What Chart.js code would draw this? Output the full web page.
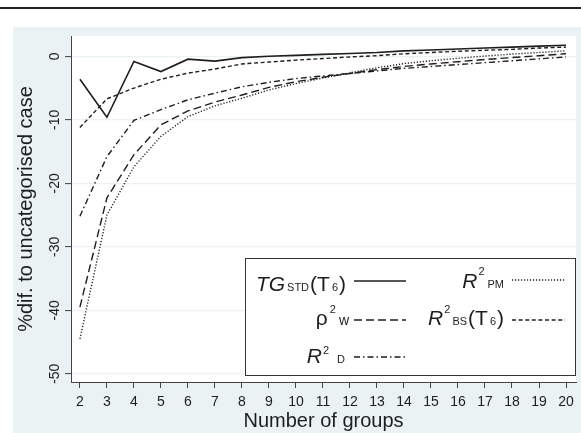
<!DOCTYPE html>
<html>
<head>
<meta charset="utf-8">
<script src="https://cdn.jsdelivr.net/npm/chart.js@4.4.1/dist/chart.umd.min.js"></script>
<style>
  html, body { margin: 0; padding: 0; background: #fff; }
</style>
</head>
<body>
<canvas id="chart" width="581" height="433"></canvas>
<script>
"use strict";

// values
const groups = [2, 3, 4, 5, 6, 7, 8, 9, 10, 11, 12, 13, 14, 15, 16, 17, 18, 19, 20];
const tgStd = [-3.6, -9.6, -0.8, -2.4, -0.45, -0.75, -0.2, 0.0, 0.15, 0.3, 0.45, 0.6, 0.85, 1.0, 1.15, 1.3, 1.45, 1.6, 1.75];
const r2Bs = [-11.2, -6.7, -5.0, -3.6, -2.65, -2.0, -1.2, -0.9, -0.6, -0.35, -0.1, 0.1, 0.4, 0.6, 0.8, 0.95, 1.1, 1.3, 1.45];
const r2D = [-25.2, -15.8, -10.1, -8.4, -6.85, -5.8, -4.8, -4.1, -3.5, -3.1, -2.7, -2.3, -1.9, -1.6, -1.3, -1.0, -0.7, -0.4, -0.1];
const rho2W = [-39.5, -22.3, -15.5, -10.8, -8.6, -7.2, -6.1, -4.9, -4.0, -3.3, -2.7, -2.1, -1.6, -1.2, -0.85, -0.5, -0.2, 0.1, 0.4];
const r2Pm = [-44.5, -25.0, -17.4, -12.6, -9.5, -7.8, -6.6, -5.3, -4.3, -3.4, -2.6, -1.8, -1.15, -0.7, -0.3, 0.05, 0.35, 0.6, 0.87];
const xTicks = groups;
const yTicks = [-50, -40, -30, -20, -10, 0];

const FONT = '"Liberation Sans", Arial, sans-serif';
const INK = "#1e1e1e";
const BG = "#eaf2f3";

const DASH = {
    solid: [],
    longDash: [8, 4],
    dashDot: [6, 3, 1.5, 3],
    dot: [1.2, 1.8],
    shortDash: [4, 2.6],
};

function pts(vals) {
    return vals.map((v, i) => ({ x: groups[i], y: v }));
}

function series(data, dash, width) {
    return {
        data: pts(data),
        borderColor: INK,
        borderWidth: width || 1.4,
        borderDash: dash,
        pointRadius: 0,
        tension: 0,
        fill: false,
    };
}

// stata-like page: rule at top, blue-grey graph region, white plot region
const backdrop = {
    id: "backdrop",
    beforeDraw(chart) {
        const { ctx, chartArea: a } = chart;
        ctx.save();
        ctx.fillStyle = "#fff";
        ctx.fillRect(0, 0, chart.width, chart.height);
        ctx.fillStyle = "#222";
        ctx.fillRect(0, 7, chart.width, 2);
        ctx.fillStyle = BG;
        ctx.fillRect(13, 27, chart.width - 13, chart.height - 27);
        ctx.fillStyle = "#fff";
        ctx.fillRect(a.left, a.top, a.right - a.left, a.bottom - a.top);
        ctx.restore();
    },
};

// legend with sub/superscripts, drawn by hand
function runText(ctx, runs, xRight, base) {
    let total = 0;
    runs.forEach(r => {
        ctx.font = r[1];
        total += (r[3] || 0) + ctx.measureText(r[0]).width;
    });
    let x = xRight - total;
    runs.forEach(r => {
        ctx.font = r[1];
        x += r[3] || 0;
        ctx.fillText(r[0], x, base + (r[2] || 0));
        x += ctx.measureText(r[0]).width;
    });
}

function keyLine(ctx, x0, x1, y, dash, w) {
    ctx.save();
    ctx.strokeStyle = INK;
    ctx.lineWidth = w || 1.4;
    ctx.setLineDash(dash);
    ctx.beginPath();
    ctx.moveTo(x0, y);
    ctx.lineTo(x1, y);
    ctx.stroke();
    ctx.restore();
}

const stataLegend = {
    id: "stataLegend",
    afterDraw(chart) {
        const ctx = chart.ctx;
        const big = "21px " + FONT;
        const bigIt = "italic 21px " + FONT;
        const sm = "11px " + FONT;
        const w14 = "14px " + FONT;
        ctx.save();
        ctx.fillStyle = "#fff";
        ctx.fillRect(245, 258, 330.5, 118);
        ctx.strokeStyle = "#333";
        ctx.lineWidth = 1;
        ctx.strokeRect(245.5, 258.5, 330, 117);

        ctx.fillStyle = INK;
        ctx.textAlign = "left";
        ctx.textBaseline = "alphabetic";

        // left column
        runText(ctx, [["TG", bigIt], ["STD", sm, 0, 2], ["(T", big, 0, 1], ["6", sm, 0, 2], [")", big, 0, 1]], 346, 291);
        keyLine(ctx, 354, 406, 281, DASH.solid, 1.5);
        runText(ctx, [["\u03c1", big], ["2", sm, -12, 2], ["w", w14, 0, 3]], 349, 325);
        keyLine(ctx, 354, 406, 320, DASH.longDash);
        runText(ctx, [["R", bigIt], ["2", sm, -9, 1], ["D", sm, 0, 8]], 345, 363);
        keyLine(ctx, 354, 406, 357, DASH.dashDot);

        // right column
        runText(ctx, [["R", bigIt], ["2", sm, -13, 1], ["PM", sm, 0, 3]], 504, 288);
        keyLine(ctx, 512, 565, 280, DASH.dot);
        runText(ctx, [["R", bigIt], ["2", sm, -12, 1], ["BS", sm, 0, 2], ["(T", big, 0, 1], ["6", sm, 0, 2], [")", big, 0, 1]], 504, 325);
        keyLine(ctx, 512, 565, 320, DASH.shortDash);
        ctx.restore();
    },
};

new Chart(document.getElementById("chart"), {
    type: "line",
    data: {
        datasets: [
            series(tgStd, DASH.solid, 1.6),
            series(rho2W, DASH.longDash),
            series(r2D, DASH.dashDot),
            series(r2Pm, DASH.dot),
            series(r2Bs, DASH.shortDash),
        ],
    },
    options: {
        responsive: false,
        animation: false,
        layout: { padding: { left: 13, top: 36, right: 5, bottom: 0 } },
        scales: {
            x: {
                type: "linear",
                min: 1.67,
                max: 20.37,
                afterBuildTicks: s => { s.ticks = xTicks.map(v => ({ value: v })); },
                afterFit: s => { s.height = 51; },
                grid: { drawOnChartArea: false, tickLength: 6, tickColor: "#444", tickWidth: 1 },
                border: { display: true, color: "#444", width: 1 },
                ticks: { autoSkip: false, maxRotation: 0, padding: 6, color: INK, font: { family: FONT, size: 14 } },
                title: {
                    display: true,
                    text: "Number of groups",
                    color: INK,
                    padding: 0,
                    font: { family: FONT, size: 20 },
                },
            },
            y: {
                min: -51.3,
                max: 3.2,
                afterBuildTicks: s => { s.ticks = yTicks.map(v => ({ value: v })); },
                afterFit: s => { s.width = 58; },
                grid: { color: BG, lineWidth: 1.2, tickLength: 6, tickColor: "#444", tickWidth: 1 },
                border: { display: true, color: "#444", width: 1 },
                ticks: {
                    minRotation: 90,
                    maxRotation: 90,
                    crossAlign: "center",
                    padding: 0,
                    color: INK,
                    font: { family: FONT, size: 14 },
                },
                title: {
                    display: true,
                    text: "%dif. to uncategorised case",
                    color: INK,
                    padding: 1,
                    font: { family: FONT, size: 20 },
                },
            },
        },
        plugins: {
            legend: { display: false },
            tooltip: { enabled: false },
        },
    },
    plugins: [backdrop, stataLegend],
});
</script>
</body>
</html>
